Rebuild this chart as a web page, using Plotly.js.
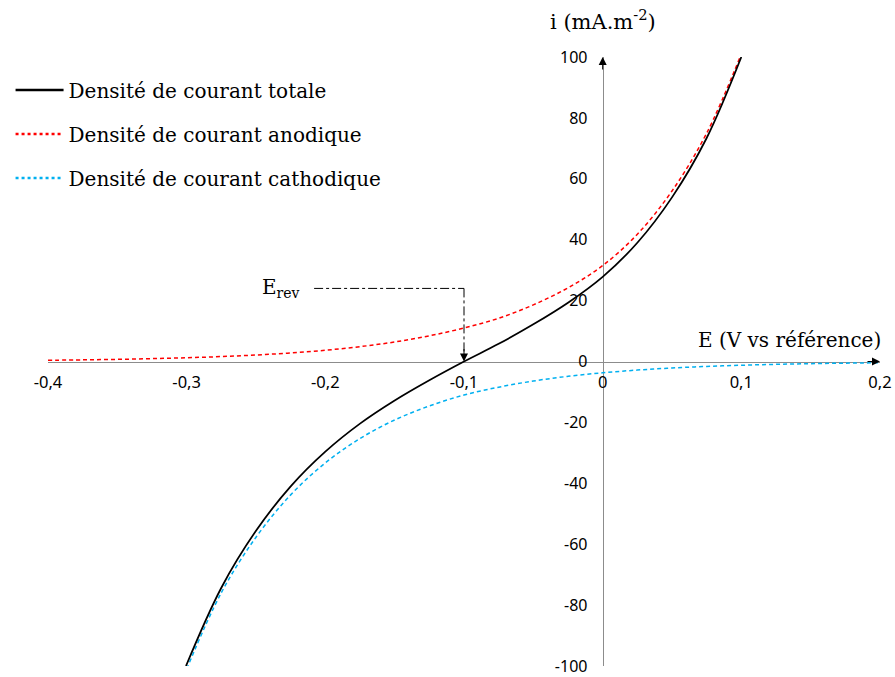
<!DOCTYPE html>
<html>
<head>
<meta charset="utf-8">
<script src="https://cdn.plot.ly/plotly-3.0.1.min.js"></script>
<style>html,body{margin:0;padding:0;background:#fff;}#chart{width:895px;height:677px;}</style>
</head>
<body>
<div id="chart"></div>
<script>
// Potential E (V vs référence)
const E_anodic = [-0.4,-0.375,-0.35,-0.325,-0.3,-0.275,-0.25,-0.225,-0.2,-0.175,-0.15,-0.125,-0.1,-0.075,-0.05,-0.025,0,0.025,0.05,0.075,0.1];
const i_anodic = [0.41,0.54,0.71,0.94,1.23,1.62,2.14,2.81,3.70,4.87,6.41,8.44,11.0,14.2,18.6,24.2,31.5,41.8,56.0,75.0,101];

const E_cathodic = [-0.3,-0.275,-0.25,-0.225,-0.2,-0.175,-0.15,-0.125,-0.1,-0.075,-0.05,-0.025,0,0.025,0.05,0.075,0.1,0.125,0.15,0.175,0.2];
const i_cathodic = [-101,-75.9,-57.7,-43.8,-33.3,-25.3,-19.2,-14.6,-11.0,-8.44,-6.41,-4.87,-3.70,-2.81,-2.14,-1.62,-1.23,-0.94,-0.71,-0.54,-0.41];

const E_total = [-0.3005,-0.275,-0.25,-0.225,-0.2,-0.175,-0.15,-0.125,-0.1,-0.075,-0.05,-0.025,0,0.025,0.05,0.075,0.1];
const i_total = [-100,-74.3,-55.6,-41.0,-29.6,-20.4,-12.8,-6.16,0,5.8,12.2,19.3,27.8,39.0,53.9,73.4,100];

const xTickVals = [-0.4,-0.3,-0.2,-0.1,0,0.1,0.2];
const xTickText = ['-0,4','-0,3','-0,2','-0,1','0','0,1','0,2'];
const yTickVals = [-100,-80,-60,-40,-20,0,20,40,60,80,100];
const yTickText = ['-100','-80','-60','-40','-20','0','20','40','60','80','100'];

const names = ['Densité de courant totale','Densité de courant anodique','Densité de courant cathodique'];
const colors = ['#000000','#FF0000','#00B0F0'];

const E_rev = -0.1;
const E_rev_level = 24;

const serif = 'DejaVu Serif';
const sans = 'Noto Sans';

const traces = [
  {x:E_anodic, y:i_anodic, mode:'lines', line:{color:colors[1], width:1.5, dash:'4px,3px', shape:'spline'}, showlegend:false, hoverinfo:'skip'},
  {x:E_cathodic, y:i_cathodic, mode:'lines', line:{color:colors[2], width:1.5, dash:'4px,3px', shape:'spline'}, showlegend:false, hoverinfo:'skip'},
  {x:E_total, y:i_total, mode:'lines', line:{color:colors[0], width:1.75, shape:'spline'}, showlegend:false, hoverinfo:'skip'},
  {x:[null], y:[null], mode:'lines', name:names[0], legendgroup:'a', line:{color:colors[0], width:2.5}},
  {x:[null], y:[null], mode:'lines', name:names[1], legendgroup:'b', line:{color:colors[1], width:2.5, dash:'dot'}},
  {x:[null], y:[null], mode:'lines', name:names[2], legendgroup:'c', line:{color:colors[2], width:2.5, dash:'dot'}}
];

const layout = {
  width:895, height:677,
  margin:{l:42, r:15, t:57, b:11},
  paper_bgcolor:'#fff', plot_bgcolor:'rgba(0,0,0,0)',
  showlegend:true,
  legend:{x:-0.045, y:0.978, xanchor:'left', yanchor:'top', font:{family:serif, size:20, color:'#000'}, tracegroupgap:15, itemwidth:48, bgcolor:'rgba(0,0,0,0)'},
  xaxis:{range:[-0.4,0.2], anchor:'free', position:0.5, showline:true, linecolor:'#8c8c8c', linewidth:1.2,
         showgrid:false, zeroline:false, ticks:'', tickvals:xTickVals, ticktext:xTickText,
         tickfont:{family:sans, size:16.5, color:'#000'}, ticklabelstandoff:5, ticklabeloverflow:'allow', layer:'below traces', fixedrange:true},
  yaxis:{range:[-100,100], anchor:'free', position:0.4/0.6, showline:true, linecolor:'#8c8c8c', linewidth:1.2,
         showgrid:false, zeroline:false, ticks:'', tickvals:yTickVals, ticktext:yTickText,
         tickfont:{family:sans, size:16, color:'#000'}, ticklabelstandoff:12, ticklabeloverflow:'allow', layer:'below traces', fixedrange:true},
  shapes:[
    {type:'line', xref:'x', yref:'y', x0:-0.2081, x1:E_rev, y0:E_rev_level, y1:E_rev_level, line:{color:'#000', width:1, dash:'dashdot'}},
    {type:'line', xref:'x', yref:'y', x0:E_rev, x1:E_rev, y0:E_rev_level, y1:3, line:{color:'#000', width:1, dash:'dashdot'}}
  ],
  annotations:[
    {x:E_rev, y:0, xref:'x', yref:'y', ax:0, ay:-14, showarrow:true, arrowhead:2, arrowsize:1.6, arrowwidth:1, arrowcolor:'#000', text:''},
    {x:0.2, y:0, xref:'x', yref:'y', ax:-14, ay:0, showarrow:true, arrowhead:2, arrowsize:1.6, arrowwidth:1, arrowcolor:'#000', text:''},
    {x:0, y:100, xref:'x', yref:'y', ax:0, ay:14, showarrow:true, arrowhead:2, arrowsize:1.6, arrowwidth:1, arrowcolor:'#000', text:''},
    {x:-0.2318, y:E_rev_level, xref:'x', yref:'y', showarrow:false, text:'E<sub>rev</sub>', font:{family:serif, size:20, color:'#000'}},
    {x:0.1348, y:7.2, xref:'x', yref:'y', showarrow:false, text:'E (V vs référence)', font:{family:serif, size:20, color:'#000'}},
    {x:0, y:1.0605, xref:'x', yref:'paper', xanchor:'center', yanchor:'middle', showarrow:false, text:'i (mA.m<sup>-2</sup>)', font:{family:serif, size:21, color:'#000'}}
  ]
};

Plotly.newPlot('chart', traces, layout, {displayModeBar:false, staticPlot:true});
</script>
</body>
</html>
